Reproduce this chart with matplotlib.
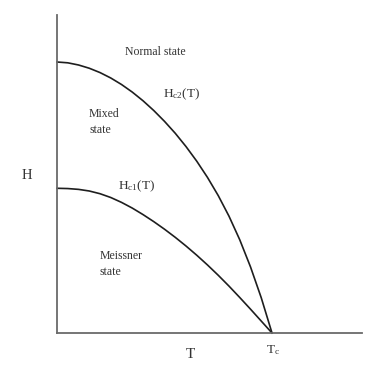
import matplotlib
matplotlib.use("Agg")
import matplotlib.pyplot as plt

# Reduced temperature T/Tc and fields (in units of Hc2(0))
t_vals = [0.0, 0.05, 0.1, 0.15, 0.2, 0.25, 0.3, 0.35, 0.4, 0.45, 0.5,
          0.55, 0.6, 0.65, 0.7, 0.75, 0.8, 0.85, 0.9, 0.95, 1.0]
hc2_vals = [1.0, 0.997, 0.989, 0.977, 0.961, 0.941, 0.917, 0.889, 0.857, 0.821, 0.781,
            0.737, 0.688, 0.634, 0.574, 0.507, 0.431, 0.344, 0.244, 0.130, 0.0]
hc1_vals = [0.534, 0.533, 0.530, 0.524, 0.514, 0.500, 0.482, 0.461, 0.437, 0.411, 0.383,
            0.353, 0.321, 0.287, 0.251, 0.213, 0.173, 0.131, 0.088, 0.044, 0.0]

plt.rcParams['font.family'] = ['Liberation Serif', 'DejaVu Serif']
plt.rcParams['mathtext.fontset'] = 'custom'
plt.rcParams['mathtext.rm'] = 'Liberation Serif'
plt.rcParams['mathtext.it'] = 'Liberation Serif:italic'

W, H = 389, 369
fig = plt.figure(figsize=(W / 100, H / 100), dpi=100)
ax = fig.add_axes([57 / W, (H - 333) / H, (362 - 57) / W, (333 - 15) / H])
ax.set_xlim(0, (362 - 57) / 215)
ax.set_ylim(0, (333 - 15) / 271)

for s in ['top', 'right']:
    ax.spines[s].set_visible(False)
for s in ['left', 'bottom']:
    ax.spines[s].set_color('#6a6a6a')
    ax.spines[s].set_linewidth(1.3)
ax.set_xticks([])
ax.set_yticks([])

ax.plot(t_vals, hc2_vals, color='#1e1e1e', lw=1.2, clip_on=False)
ax.plot(t_vals, hc1_vals, color='#1e1e1e', lw=1.2, clip_on=False)

tc = '#333333'
ax.text(0.456, 1.037, 'Normal state', ha='center', va='center', fontsize=8.5, color=tc)
ax.text(0.493, 0.882, r'H$_{\mathrm{c2}}$(T)', ha='left', va='center', fontsize=9.5, color=tc)
ax.text(0.149, 0.78, 'Mixed\nstate', ha='left', va='center', fontsize=8.5, color=tc,
        linespacing=1.45)
ax.text(0.284, 0.542, r'H$_{\mathrm{c1}}$(T)', ha='left', va='center', fontsize=9.5, color=tc)
ax.text(0.2, 0.256, 'Meissner\nstate', ha='left', va='center', fontsize=8.5, color=tc,
        linespacing=1.45)
ax.text(-0.14, 0.583, 'H', ha='center', va='center', fontsize=10.5, color=tc, clip_on=False)
ax.text(0.619, -0.081, 'T', ha='center', va='center', fontsize=11, color=tc, clip_on=False)
ax.text(1.005, -0.063, r'T$_{\mathrm{c}}$', ha='center', va='center', fontsize=9.5, color=tc,
        clip_on=False)

fig.savefig('out.png', dpi=100)
